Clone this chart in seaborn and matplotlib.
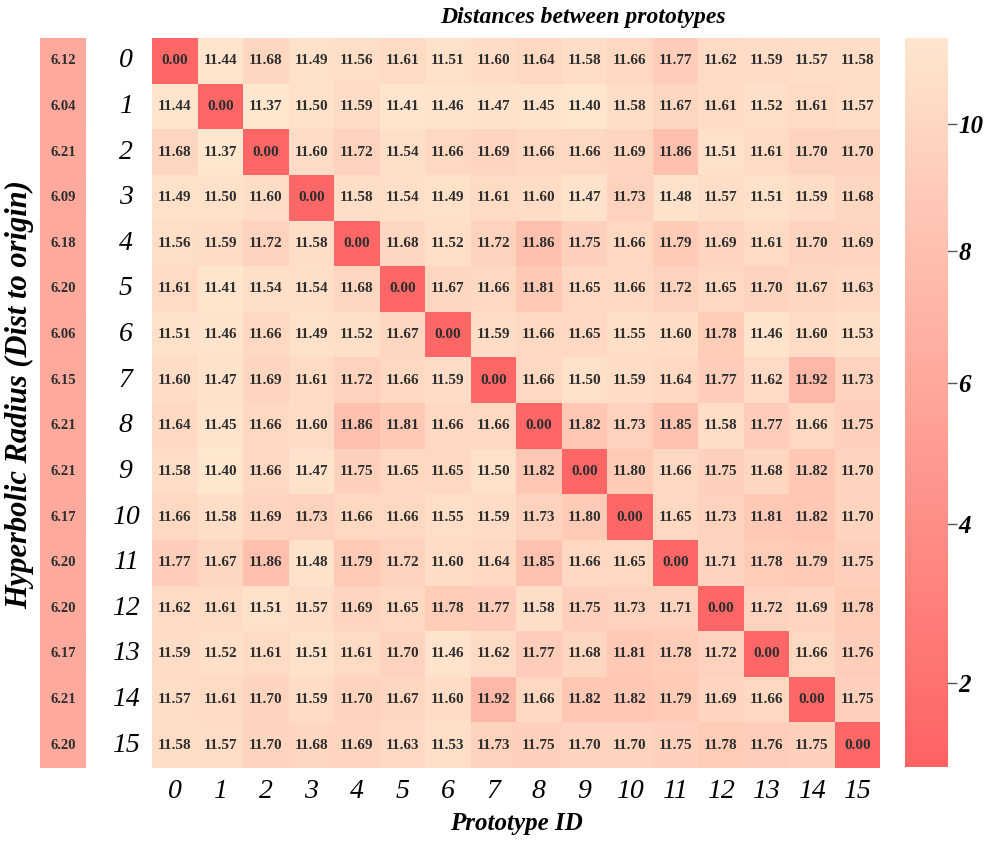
import numpy as np
import pandas as pd
import matplotlib
matplotlib.use("Agg")
import matplotlib.pyplot as plt
import seaborn as sns
from matplotlib.colors import LinearSegmentedColormap, PowerNorm

# ---------------- data ----------------
prototype_ids = [str(i) for i in range(16)]

radius = [6.12, 6.04, 6.21, 6.09, 6.18, 6.20, 6.06, 6.15,
          6.21, 6.21, 6.17, 6.20, 6.20, 6.17, 6.21, 6.20]

row_0 = [0.00, 11.44, 11.68, 11.49, 11.56, 11.61, 11.51, 11.60, 11.64, 11.58, 11.66, 11.77, 11.62, 11.59, 11.57, 11.58]
row_1 = [11.44, 0.00, 11.37, 11.50, 11.59, 11.41, 11.46, 11.47, 11.45, 11.40, 11.58, 11.67, 11.61, 11.52, 11.61, 11.57]
row_2 = [11.68, 11.37, 0.00, 11.60, 11.72, 11.54, 11.66, 11.69, 11.66, 11.66, 11.69, 11.86, 11.51, 11.61, 11.70, 11.70]
row_3 = [11.49, 11.50, 11.60, 0.00, 11.58, 11.54, 11.49, 11.61, 11.60, 11.47, 11.73, 11.48, 11.57, 11.51, 11.59, 11.68]
row_4 = [11.56, 11.59, 11.72, 11.58, 0.00, 11.68, 11.52, 11.72, 11.86, 11.75, 11.66, 11.79, 11.69, 11.61, 11.70, 11.69]
row_5 = [11.61, 11.41, 11.54, 11.54, 11.68, 0.00, 11.67, 11.66, 11.81, 11.65, 11.66, 11.72, 11.65, 11.70, 11.67, 11.63]
row_6 = [11.51, 11.46, 11.66, 11.49, 11.52, 11.67, 0.00, 11.59, 11.66, 11.65, 11.55, 11.60, 11.78, 11.46, 11.60, 11.53]
row_7 = [11.60, 11.47, 11.69, 11.61, 11.72, 11.66, 11.59, 0.00, 11.66, 11.50, 11.59, 11.64, 11.77, 11.62, 11.92, 11.73]
row_8 = [11.64, 11.45, 11.66, 11.60, 11.86, 11.81, 11.66, 11.66, 0.00, 11.82, 11.73, 11.85, 11.58, 11.77, 11.66, 11.75]
row_9 = [11.58, 11.40, 11.66, 11.47, 11.75, 11.65, 11.65, 11.50, 11.82, 0.00, 11.80, 11.66, 11.75, 11.68, 11.82, 11.70]
row_10 = [11.66, 11.58, 11.69, 11.73, 11.66, 11.66, 11.55, 11.59, 11.73, 11.80, 0.00, 11.65, 11.73, 11.81, 11.82, 11.70]
row_11 = [11.77, 11.67, 11.86, 11.48, 11.79, 11.72, 11.60, 11.64, 11.85, 11.66, 11.65, 0.00, 11.71, 11.78, 11.79, 11.75]
row_12 = [11.62, 11.61, 11.51, 11.57, 11.69, 11.65, 11.78, 11.77, 11.58, 11.75, 11.73, 11.71, 0.00, 11.72, 11.69, 11.78]
row_13 = [11.59, 11.52, 11.61, 11.51, 11.61, 11.70, 11.46, 11.62, 11.77, 11.68, 11.81, 11.78, 11.72, 0.00, 11.66, 11.76]
row_14 = [11.57, 11.61, 11.70, 11.59, 11.70, 11.67, 11.60, 11.92, 11.66, 11.82, 11.82, 11.79, 11.69, 11.66, 0.00, 11.75]
row_15 = [11.58, 11.57, 11.70, 11.68, 11.69, 11.63, 11.53, 11.73, 11.75, 11.70, 11.70, 11.75, 11.78, 11.76, 11.75, 0.00]

cbar_ticks = [2, 4, 6, 8, 10]

dist = pd.DataFrame([row_0, row_1, row_2, row_3, row_4, row_5, row_6, row_7,
                     row_8, row_9, row_10, row_11, row_12, row_13, row_14, row_15],
                    index=prototype_ids, columns=prototype_ids)
rad_df = pd.DataFrame({"r": radius}, index=prototype_ids)

# ---------------- style ----------------
sns.set_theme(style="white")
plt.rcParams["font.family"] = ["Liberation Serif", "DejaVu Serif"]
plt.rcParams["text.color"] = "black"
plt.rcParams["xtick.color"] = "black"
plt.rcParams["ytick.color"] = "black"

VMAX_MAIN = 12.0
nodes = [(0.0, "#FF6666"), (11.0, "#FFE9D3"), (11.40, "#FFE6CF"), (11.50, "#FFE1CA"),
         (11.60, "#FFDCC5"), (11.70, "#FFD5BF"), (11.80, "#FFCBB7"), (11.92, "#FFB8A8"),
         (12.0, "#FFB0A0")]
main_cmap = LinearSegmentedColormap.from_list(
    "main", [(v / VMAX_MAIN, c) for v, c in nodes], N=1024)
cb_cmap = LinearSegmentedColormap.from_list("cb", ["#FF6262", "#FFE6CF"])
cb_norm = PowerNorm(gamma=0.85, vmin=1.2, vmax=11.4)

annot_kw = dict(fontsize=11, fontweight="bold", color="#2E2E2E",
                family=["Liberation Serif", "DejaVu Serif"])

fig = plt.figure(figsize=(9.97, 8.55), dpi=100)
H = 855.0
W = 997.0
ax_r = fig.add_axes([40 / W, 87 / H, 46 / W, 730 / H])
ax_m = fig.add_axes([152 / W, 87 / H, 728 / W, 730 / H])
cax = fig.add_axes([905 / W, 88 / H, 43 / W, 729 / H])

sns.heatmap(dist, ax=ax_m, cmap=main_cmap, vmin=0, vmax=VMAX_MAIN, cbar=False,
            annot=True, fmt=".2f", annot_kws=annot_kw, linewidths=0)

sns.heatmap(rad_df, ax=ax_r, cmap=cb_cmap, norm=cb_norm, cbar=True, cbar_ax=cax,
            cbar_kws={"ticks": cbar_ticks},
            annot=True, fmt=".2f", annot_kws=dict(annot_kw, fontsize=10.5),
            xticklabels=False, yticklabels=False, linewidths=0)
ax_r.set_xlabel("")
ax_r.set_ylabel("")

# main axis ticks
ax_m.tick_params(axis="both", length=0)
ax_m.set_xticklabels(prototype_ids, rotation=0, fontsize=20, fontstyle="italic")
ax_m.set_yticklabels(prototype_ids, rotation=0, fontsize=20, fontstyle="italic", ha="center")
ax_m.tick_params(axis="y", pad=19)
ax_m.tick_params(axis="x", pad=8)
ax_m.set_xlabel("")
ax_m.set_ylabel("")

# colorbar styling
cb = ax_r.collections[0].colorbar
cb.outline.set_visible(False)
cax.tick_params(direction="inout", length=13, width=1, color="#555555",
                labelsize=18, pad=1, right=True, labelcolor="black")
for t in cax.get_yticklabels():
    t.set_fontweight("bold")
    t.set_fontstyle("italic")

# texts
fig.text(583 / W, 1 - 18 / H, "Distances between prototypes", ha="center", va="center",
         fontsize=17, fontweight="bold", fontstyle="italic")
fig.text(516 / W, 1 - 823 / H, "Prototype ID", ha="center", va="center",
         fontsize=18, fontweight="bold", fontstyle="italic")
fig.text(20 / W, 1 - 395 / H, "Hyperbolic Radius (Dist to origin)", ha="center", va="center",
         rotation=90, fontsize=22, fontweight="bold", fontstyle="italic")

fig.savefig("out.png", dpi=100)
